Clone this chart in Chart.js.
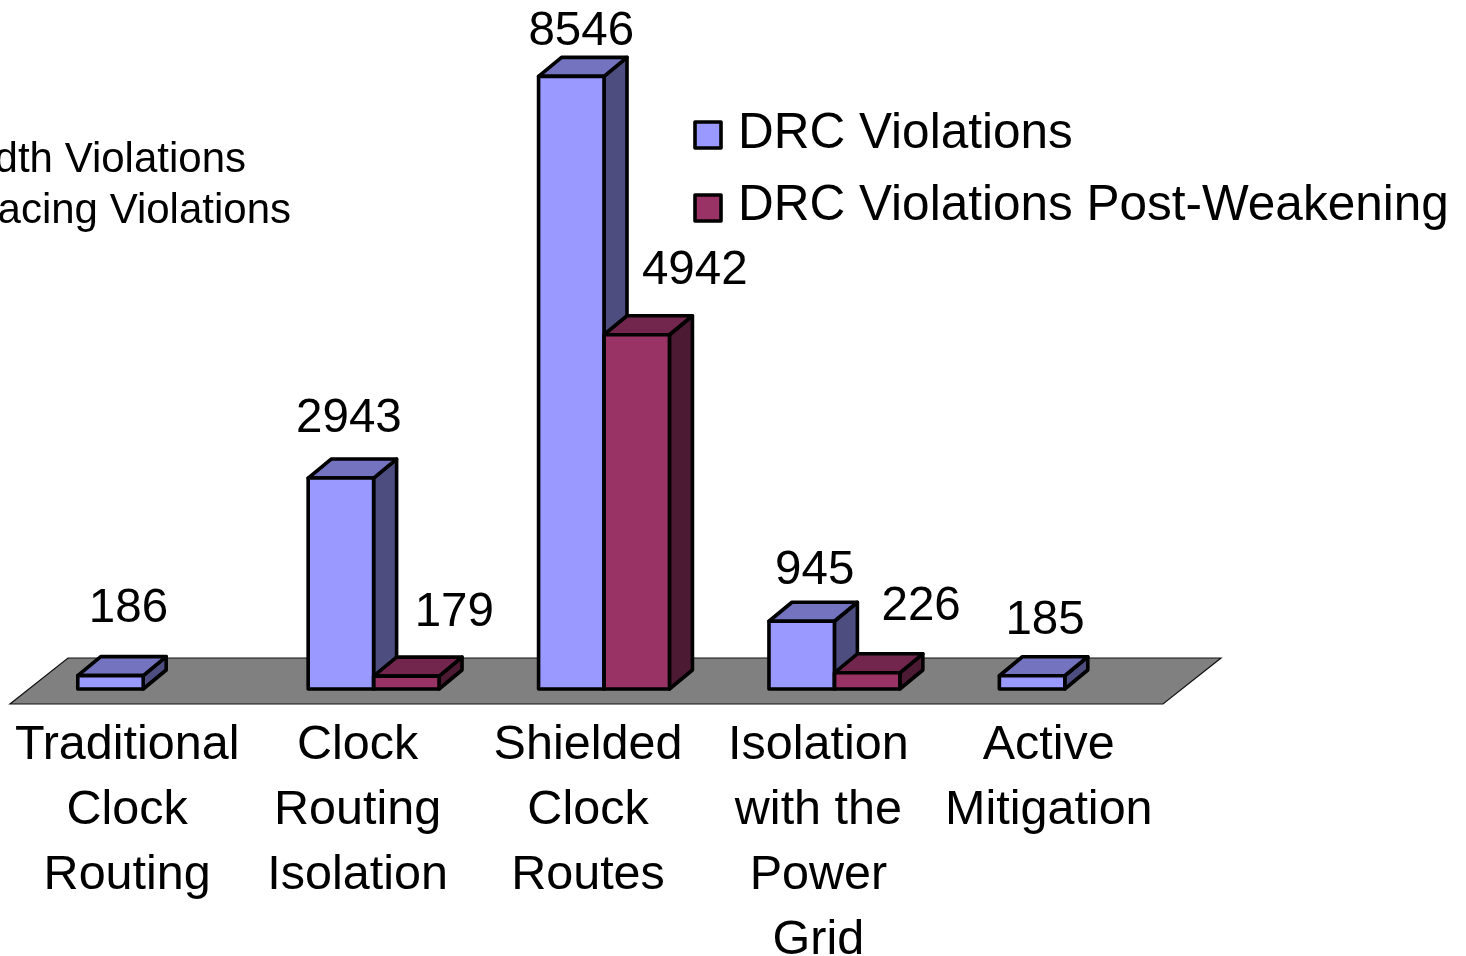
<!DOCTYPE html>
<html>
<head>
<meta charset="utf-8">
<script src="https://cdn.jsdelivr.net/npm/chart.js@4"></script>
<style>
html,body{margin:0;padding:0;background:#fff;overflow:hidden}
#wrap{width:1466px;height:956px;position:relative}
canvas{display:block}
</style>
</head>
<body>
<div id="wrap"><canvas id="c" width="1466" height="956"></canvas></div>
<script>
const categories = [
  ["Traditional","Clock","Routing"],
  ["Clock","Routing","Isolation"],
  ["Shielded","Clock","Routes"],
  ["Isolation","with the","Power","Grid"],
  ["Active","Mitigation"]
];
const drcViolations = [186, 2943, 8546, 945, 185];
const drcPostWeakening = [null, 179, 4942, 226, null];
const strayLegendTexts = ["Width Violations", "Spacing Violations"];

const FONT = '"Liberation Sans", Arial, sans-serif';
const DEPTH_X = 23, DEPTH_Y = 19;
const STROKE = 3.6;
const palette = [
  {front:'#9999FF', top:'#7373BF', side:'#4D4D80'},
  {front:'#993366', top:'#73264D', side:'#4D1A33'}
];
// hand placement of value labels relative to bar top-centre [dx, dy]
const labelNudges = [
  [[18,-67],[8,-59],[10,-45],[13,-50],[13,-55]],
  [null,[48,-63],[58,-64],[54,-66],null]
];

const scene3d = {
  id:'scene3d',
  beforeDatasetsDraw(chart){
    const {ctx, scales:{x,y}} = chart;
    const base = y.getPixelForValue(0);
    const left = x.left, right = x.right;
    // floor
    ctx.save();
    ctx.beginPath();
    ctx.moveTo(left-18, base+15);
    ctx.lineTo(right-17, base+15);
    ctx.lineTo(right+41, base-31);
    ctx.lineTo(left+40, base-31);
    ctx.closePath();
    ctx.fillStyle='#808080';
    ctx.fill();
    ctx.lineWidth=1.2;
    ctx.strokeStyle='#111';
    ctx.stroke();
    // side and top faces
    chart.data.datasets.forEach((ds,di)=>{
      const meta = chart.getDatasetMeta(di);
      meta.data.forEach((bar,i)=>{
        if(ds.data[i]==null) return;
        const p = bar.getProps(['x','y','base','width'],true);
        const l=p.x-p.width/2, r=p.x+p.width/2, t=p.y, b=p.base;
        const c=palette[di];
        ctx.lineWidth=STROKE; ctx.strokeStyle='#000'; ctx.lineJoin='round';
        ctx.beginPath();
        ctx.moveTo(r,b);ctx.lineTo(r+DEPTH_X,b-DEPTH_Y);ctx.lineTo(r+DEPTH_X,t-DEPTH_Y);ctx.lineTo(r,t);ctx.closePath();
        ctx.fillStyle=c.side;ctx.fill();ctx.stroke();
        ctx.beginPath();
        ctx.moveTo(l,t);ctx.lineTo(l+DEPTH_X,t-DEPTH_Y);ctx.lineTo(r+DEPTH_X,t-DEPTH_Y);ctx.lineTo(r,t);ctx.closePath();
        ctx.fillStyle=c.top;ctx.fill();ctx.stroke();
      });
    });
    ctx.restore();
  },
  afterDatasetsDraw(chart){
    const {ctx} = chart;
    ctx.save();
    // front-face outlines centred on the bar edges
    ctx.lineWidth=STROKE;ctx.strokeStyle='#000';ctx.lineJoin='round';
    chart.data.datasets.forEach((ds,di)=>{
      chart.getDatasetMeta(di).data.forEach((bar,i)=>{
        if(ds.data[i]==null) return;
        const p = bar.getProps(['x','y','base','width'],true);
        ctx.strokeRect(p.x-p.width/2,p.y,p.width,p.base-p.y);
      });
    });
    ctx.fillStyle='#000';
    ctx.textAlign='center';
    ctx.textBaseline='middle';
    ctx.font='47.5px '+FONT;
    chart.data.datasets.forEach((ds,di)=>{
      chart.getDatasetMeta(di).data.forEach((bar,i)=>{
        if(ds.data[i]==null) return;
        const n=labelNudges[di][i];
        ctx.fillText(String(ds.data[i]), bar.x+n[0], bar.y+n[1]);
      });
    });
    // legend
    ctx.font='49.5px '+FONT;
    ctx.textAlign='left';
    const rows=[134,206];
    const boxes=[122,195];
    chart.data.datasets.forEach((ds,di)=>{
      ctx.fillStyle=palette[di].front;
      ctx.beginPath();ctx.rect(695,boxes[di],26,26);ctx.fill();ctx.stroke();
      ctx.fillStyle='#000';
      ctx.fillText(ds.label,738,rows[di]);
    });
    // legend text of an earlier chart, cut by the page edge
    ctx.font='42px '+FONT;
    ctx.textAlign='right';
    ctx.fillText(strayLegendTexts[0],246,160);
    ctx.fillText(strayLegendTexts[1],291,211);
    ctx.restore();
  }
};

new Chart(document.getElementById('c'),{
  type:'bar',
  data:{
    labels:categories,
    datasets:[
      {label:'DRC Violations',data:drcViolations,backgroundColor:palette[0].front,borderWidth:0},
      {label:'DRC Violations Post-Weakening',data:drcPostWeakening,backgroundColor:palette[1].front,borderWidth:0}
    ]
  },
  options:{
    responsive:false,
    animation:false,
    layout:{padding:{left:28,right:286,top:0,bottom:0}},
    plugins:{legend:{display:false},tooltip:{enabled:false},title:{display:false}},
    datasets:{bar:{categoryPercentage:0.568,barPercentage:1}},
    scales:{
      y:{display:false,min:0,max:9612,beginAtZero:true},
      x:{
        grid:{display:false,drawTicks:false},
        border:{display:false},
        afterFit(s){s.height=267;},
        ticks:{
          color:'#000',
          maxRotation:0,minRotation:0,autoSkip:false,
          labelOffset:-16,padding:24,
          font:{family:FONT,size:48.5,lineHeight:1.34}
        }
      }
    }
  },
  plugins:[scene3d]
});
</script>
</body>
</html>
